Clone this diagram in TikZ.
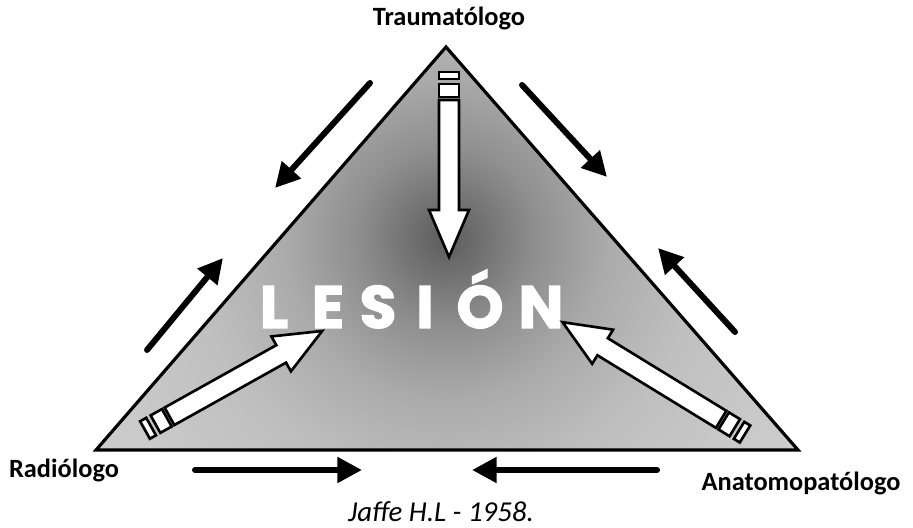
\documentclass[tikz,border=0pt]{standalone}
\usepackage{fontspec}
\setmainfont{Carlito}
\newfontfamily\lesfont[BoldFeatures={FakeBold=2}]{Poppins}
\usetikzlibrary{arrows.meta}
\pgfdeclareradialshading{lesionshade}{\pgfpoint{0bp}{0bp}}{rgb(0bp)=(.36,.36,.36); rgb(2bp)=(.44,.44,.44); rgb(5bp)=(.56,.56,.56); rgb(9bp)=(.67,.67,.67); rgb(14bp)=(.75,.75,.75); rgb(20bp)=(.79,.79,.79); rgb(25bp)=(.81,.81,.81); rgb(50bp)=(.81,.81,.81)}
\tikzset{
  fatline/.style={draw=black, fill=white, line width=0.75pt, line join=miter},
  pics/fatarrow/.style={code={
    \draw[fatline] (0,-10) rectangle (7,10);
    \draw[fatline] (12,-10) rectangle (25,10);
    \draw[fatline] (28,-10) -- (#1-47,-10) -- (#1-47,-20) -- (#1,0) -- (#1-47,20) -- (#1-47,10) -- (28,10) -- cycle;
  }},
  blackarrow/.style={line width=1.7pt, line cap=round, -{Triangle[length=7pt,width=7pt]}},
  lbl/.style={font=\bfseries\fontsize{7.5}{9}\selectfont, inner sep=0pt},
  cite/.style={font=\itshape\fontsize{8.2}{10}\selectfont, inner sep=0pt},
  lesletter/.style={font=\lesfont\bfseries\fontsize{17}{20}\selectfont, text=white, anchor=base, inner sep=0pt}
}
\begin{document}
\begin{tikzpicture}[x=0.01cm,y=0.01cm]
\useasboundingbox[fill=white] (0,0) rectangle (913,528);
% triangle
\coordinate (apex) at (446,481);
\coordinate (lc) at (96,78);
\coordinate (rc) at (798,78);
\begin{scope}
  \clip (apex) -- (lc) -- (rc) -- cycle;
  \shade[shading=lesionshade] (446,290) circle (450);
\end{scope}
\draw[line width=0.9pt, line join=miter] (apex) -- (lc) -- (rc) -- cycle;
% LESION
\node[lesletter] (l1) at (274,200) {L};
\node[lesletter] (l2) at (328,200) {E};
\node[lesletter] (l3) at (378,200) {S};
\node[lesletter] (l4) at (425,200) {I};
\node[lesletter] (l5) at (480,200) {Ó};
\node[lesletter] (l6) at (541,200) {N};
% white arrows
\pic[rotate=-90] at (449,456) {fatarrow=185};
\pic[rotate=29.2] at (145,98) {fatarrow=203};
\pic[rotate=148.5] at (745,94) {fatarrow=214};
% outer black arrows
\coordinate (ula) at (370,445); \coordinate (ulb) at (275,340);
\coordinate (lla) at (147,178); \coordinate (llb) at (223,270);
\coordinate (ura) at (522,443); \coordinate (urb) at (607,351);
\coordinate (ra) at (735,196);  \coordinate (rb) at (658,280);
\coordinate (bla) at (195,58);  \coordinate (blb) at (362,58);
\coordinate (bra) at (657,58);  \coordinate (brb) at (472,58);
\draw[blackarrow] (ula) -- (ulb);
\draw[blackarrow] (lla) -- (llb);
\draw[blackarrow] (ura) -- (urb);
\draw[blackarrow] (ra) -- (rb);
\draw[blackarrow] (bla) -- (blb);
\draw[blackarrow] (bra) -- (brb);
% labels
\node[lbl] (trau) at (449,510) {Traumatólogo};
\node[lbl] (radio) at (64,58) {Radiólogo};
\node[lbl] (anat) at (801,45) {Anatomopatólogo};
\node[cite] (jaffe) at (441,16) {Jaffe H.L - 1958.};
\end{tikzpicture}
\end{document}
